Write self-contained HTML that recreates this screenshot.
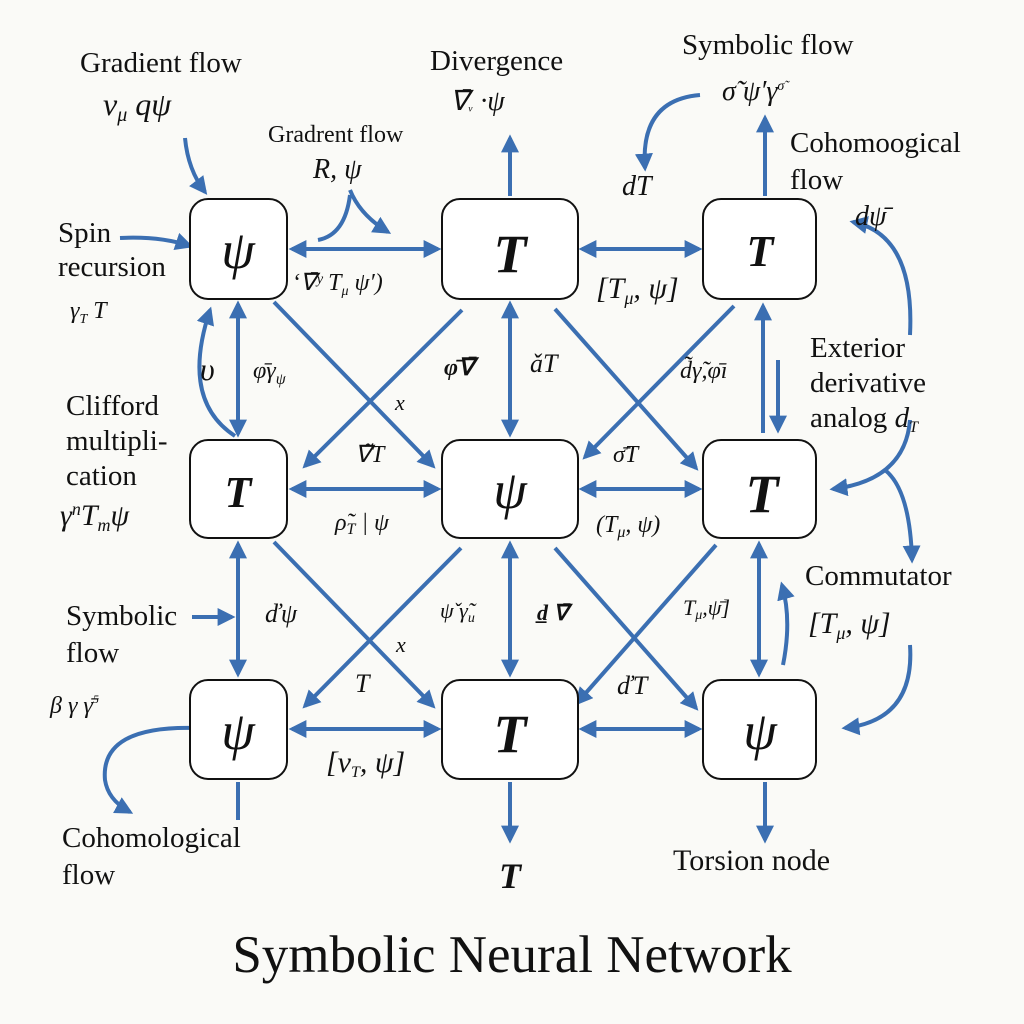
<!DOCTYPE html>
<html><head><meta charset="utf-8"><style>
html,body{margin:0;padding:0;background:#fafaf7;}
svg{display:block;}
text{font-family:"Liberation Serif",serif;fill:#111;}
.n{fill:#fff;stroke:#111;stroke-width:2;}
.a{stroke:#3b6fb2;stroke-width:4;fill:none;}
.big{font-size:54px;font-style:italic;font-weight:bold;text-anchor:middle;}
.lb{font-size:29px;}
.m{font-size:28px;font-style:italic;}
</style></head><body>
<svg width="1024" height="1024" viewBox="0 0 1024 1024">
<defs>
<marker id="h" viewBox="0 0 10 10" refX="8" refY="5" markerWidth="4.5" markerHeight="4.5" orient="auto-start-reverse"><path d="M0,0 L10,5 L0,10 z" fill="#3b6fb2"/></marker>
</defs>
<g class="a" marker-end="url(#h)" marker-start="url(#h)">
<line x1="292" y1="249" x2="438" y2="249"/>
<line x1="582" y1="249" x2="699" y2="249"/>
<line x1="292" y1="489" x2="438" y2="489"/>
<line x1="582" y1="489" x2="699" y2="489"/>
<line x1="292" y1="729" x2="438" y2="729"/>
<line x1="582" y1="729" x2="699" y2="729"/>
<line x1="238" y1="304" x2="238" y2="434"/>
<line x1="238" y1="544" x2="238" y2="674"/>
<line x1="510" y1="304" x2="510" y2="434"/>
<line x1="510" y1="544" x2="510" y2="674"/>
<line x1="759" y1="544" x2="759" y2="674"/>
</g>
<g class="a" marker-end="url(#h)">
<line x1="274" y1="302" x2="433" y2="466"/>
<line x1="462" y1="310" x2="305" y2="466"/>
<line x1="734" y1="306" x2="585" y2="457"/>
<line x1="555" y1="309" x2="696" y2="468"/>
<line x1="274" y1="542" x2="433" y2="706"/>
<line x1="461" y1="548" x2="305" y2="706"/>
<line x1="716" y1="545" x2="577" y2="703"/>
<line x1="555" y1="548" x2="696" y2="708"/>
<line x1="763" y1="433" x2="763" y2="306"/>
<line x1="778" y1="360" x2="778" y2="430"/>
<line x1="510" y1="196" x2="510" y2="138"/>
<line x1="765" y1="196" x2="765" y2="118"/>
<line x1="510" y1="782" x2="510" y2="840"/>
<line x1="765" y1="782" x2="765" y2="840"/>
<path d="M185,138 Q188,170 205,192"/>
<path d="M120,238 Q160,236 190,246"/>
<path d="M192,617 L232,617" />
<path d="M235,436 Q180,400 210,310"/>
<path d="M700,95 Q640,100 645,168"/>
<path d="M910,335 Q915,235 853,222"/>
<path d="M910,420 Q905,480 833,489"/>
<path d="M885,470 Q910,490 912,560"/>
<path d="M910,645 Q915,720 845,728"/>
<path d="M197,728 Q100,725 105,780 Q108,800 130,812"/>
<path d="M783,665 Q792,620 782,585"/>
<path d="M350,190 Q360,215 388,232"/>
</g>
<path class="a" d="M318,240 Q345,235 350,195" />
<line class="a" x1="238" y1="782" x2="238" y2="820"/>
<rect class="n" x="190" y="199" width="97" height="100" rx="18"/>
<rect class="n" x="442" y="199" width="136" height="100" rx="18"/>
<rect class="n" x="703" y="199" width="113" height="100" rx="18"/>
<rect class="n" x="190" y="440" width="97" height="98" rx="18"/>
<rect class="n" x="442" y="440" width="136" height="98" rx="18"/>
<rect class="n" x="703" y="440" width="113" height="98" rx="18"/>
<rect class="n" x="190" y="680" width="97" height="99" rx="18"/>
<rect class="n" x="442" y="680" width="136" height="99" rx="18"/>
<rect class="n" x="703" y="680" width="113" height="99" rx="18"/>
<text class="big" x="238" y="268" style="font-weight:normal">ψ</text>
<text class="big" x="510" y="272">T</text>
<text class="big" x="760" y="266" style="font-size:44px">T</text>
<text class="big" x="238" y="507" style="font-size:44px">T</text>
<text class="big" x="510" y="508" style="font-weight:normal">ψ</text>
<text class="big" x="762" y="512">T</text>
<text class="big" x="238" y="749" style="font-weight:normal">ψ</text>
<text class="big" x="510" y="752">T</text>
<text class="big" x="760" y="749" style="font-weight:normal">ψ</text>
<text class="lb" x="80" y="72">Gradient flow</text>
<text class="m" x="103" y="115" style="font-size:32px">ν<tspan font-size="20" dy="6">μ</tspan><tspan dy="-6"> qψ</tspan></text>
<text class="lb" x="268" y="142" style="font-size:24px">Gradrent flow</text>
<text class="m" x="313" y="178">R, ψ</text>
<text class="lb" x="430" y="70">Divergence</text>
<text class="m" x="450" y="110">∇̄<tspan font-size="16">ᵥ</tspan> ·ψ</text>
<text class="lb" x="682" y="54">Symbolic flow</text>
<text class="m" x="722" y="100">σ̃ ψ′γ<tspan font-size="14" dy="-10">σ̃</tspan></text>
<text class="lb" x="790" y="152">Cohomoogical</text>
<text class="lb" x="790" y="189">flow</text>
<text class="m" x="855" y="225">dψ̄</text>
<text class="lb" x="58" y="242">Spin</text>
<text class="lb" x="58" y="276">recursion</text>
<text class="m" x="70" y="318" style="font-size:24px">γ<tspan font-size="14" dy="5">T</tspan><tspan dy="-5"> T</tspan></text>
<text class="m" x="292" y="290" style="font-size:24px">ʻ∇̄ʸ T<tspan font-size="14" dy="5">μ</tspan><tspan dy="-5"> ψ′)</tspan></text>
<text class="m" x="622" y="195">dT</text>
<text class="m" x="596" y="298" style="font-size:30px">[T<tspan font-size="18" dy="6">μ</tspan><tspan dy="-6">, ψ]</tspan></text>
<text class="m" x="200" y="380" style="font-size:32px">υ</text>
<text class="m" x="253" y="378" style="font-size:24px">φ̄γ<tspan font-size="16" dy="6">ψ</tspan></text>
<text class="m" x="444" y="375" style="font-size:24px;font-weight:bold">φ̄∇̄</text>
<text class="m" x="530" y="372" style="font-size:26px">ǎT</text>
<text class="m" x="680" y="378" style="font-size:24px">d̃γ̃,φ̄ı</text>
<text class="m" x="395" y="410" style="font-size:22px">x</text>
<text class="lb" x="810" y="357">Exterior</text>
<text class="lb" x="810" y="392">derivative</text>
<text class="lb" x="810" y="427">analog <tspan font-style="italic">d<tspan font-size="16" dy="5">T</tspan></tspan></text>
<text class="lb" x="66" y="415">Clifford</text>
<text class="lb" x="66" y="450">multipli-</text>
<text class="lb" x="66" y="485">cation</text>
<text class="m" x="60" y="525" style="font-size:30px">γ<tspan font-size="18" dy="-10">n</tspan><tspan dy="10">T</tspan><tspan font-size="18" dy="6">m</tspan><tspan dy="-6">ψ</tspan></text>
<text class="m" x="355" y="462" style="font-size:24px">∇̃T</text>
<text class="m" x="613" y="462" style="font-size:24px">σ̄T</text>
<text class="m" x="335" y="530" style="font-size:24px">ρ̃<tspan font-size="16" dy="4">T</tspan><tspan dy="-4"> | ψ</tspan></text>
<text class="m" x="596" y="532" style="font-size:24px">(T<tspan font-size="16" dy="5">μ</tspan><tspan dy="-5">, ψ)</tspan></text>
<text class="lb" x="805" y="585">Commutator</text>
<text class="m" x="808" y="633" style="font-size:30px">[T<tspan font-size="18" dy="6">μ</tspan><tspan dy="-6">, ψ]</tspan></text>
<text class="lb" x="66" y="625">Symbolic</text>
<text class="lb" x="66" y="662">flow</text>
<text class="m" x="265" y="622" style="font-size:26px">ďψ</text>
<text class="m" x="440" y="618" style="font-size:22px">ψ̌ γ̃<tspan font-size="14" dy="4">u</tspan></text>
<text class="m" x="537" y="620" style="font-size:22px;font-weight:bold">d̲ ∇̄</text>
<text class="m" x="683" y="615" style="font-size:22px">T<tspan font-size="14" dy="4">μ</tspan><tspan dy="-4">,ψ̄]</tspan></text>
<text class="m" x="396" y="652" style="font-size:22px">x</text>
<text class="m" x="355" y="692" style="font-size:26px">T</text>
<text class="m" x="617" y="694" style="font-size:26px">ďT</text>
<text class="m" x="50" y="713" style="font-size:24px">β γ γ̄<tspan font-size="12" dy="-10">5</tspan></text>
<text class="m" x="326" y="772" style="font-size:30px">[ν<tspan font-size="16" dy="5">T</tspan><tspan dy="-5">, ψ]</tspan></text>
<text class="lb" x="62" y="847">Cohomological</text>
<text class="lb" x="62" y="884">flow</text>
<text class="big" x="510" y="888" style="font-size:36px">T</text>
<text class="lb" x="673" y="870" style="font-size:30px">Torsion node</text>
<text x="512" y="972" style="font-size:53px;text-anchor:middle">Symbolic Neural Network</text>
</svg>
</body></html>
